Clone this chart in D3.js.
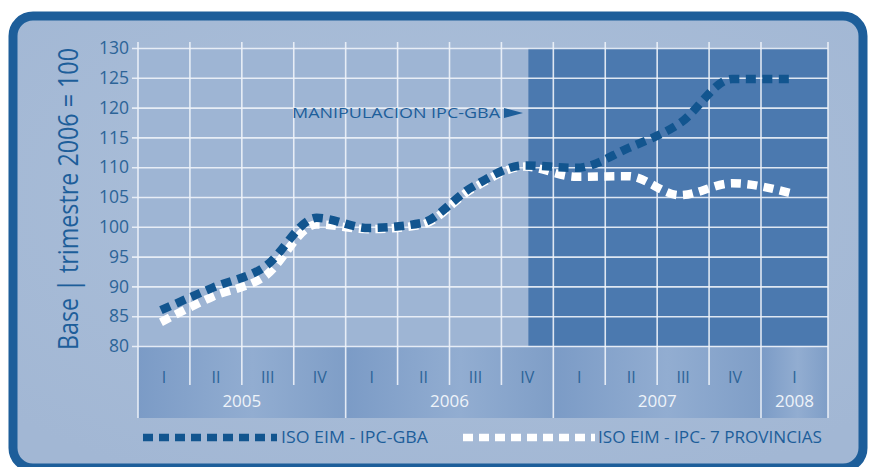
<!DOCTYPE html>
<html>
<head>
<meta charset="utf-8">
<script src="https://cdn.jsdelivr.net/npm/d3@7"></script>
<style>
  html, body { margin: 0; padding: 0; background: #ffffff; }
  svg { display: block; }
  text { font-family: "Open Sans", "DejaVu Sans", sans-serif; }
</style>
</head>
<body>
<svg id="chart" width="872" height="467"></svg>
<script>
// ---- data ----
const quarters = ["I","II","III","IV","I","II","III","IV","I","II","III","IV","I"];
const years = ["2005","2006","2007","2008"];
const yearQuarterCount = [4, 4, 4, 1];
const seriesGBA = [86.0, 89.8, 93.3, 101.5, 99.8, 100.6, 106.7, 110.3, 109.9, 113.2, 117.4, 124.8, 124.8];
const seriesProv = [84.0, 88.3, 91.7, 100.4, 99.6, 100.3, 106.4, 110.1, 108.4, 108.5, 105.3, 107.3, 105.6];
const yTicks = [80, 85, 90, 95, 100, 105, 110, 115, 120, 125, 130];
const labelGBA = "ISO EIM - IPC-GBA";
const labelProv = "ISO EIM - IPC- 7 PROVINCIAS";
const yTitle = "Base | trimestre 2006 = 100";
const annotation = "MANIPULACION IPC-GBA";
const manipulationStart = 7.5; // quarter index where shading begins

// ---- layout ----
const svg = d3.select("#chart");
const plotLeft = 138, plotTop = 48, plotBottom = 346, bandBottom = 418;
const x = d3.scaleLinear().domain([0, 12, 13]).range([138, 761, 828]);
const y = d3.scaleLinear().domain([80, 130]).range([plotBottom, plotTop]);
const plotRight = x(13);

const defs = svg.append("defs");
const pg = defs.append("radialGradient").attr("id", "panelGrad").attr("cx", "50%").attr("cy", "40%").attr("r", "70%");
pg.append("stop").attr("offset", "0%").attr("stop-color", "#acc0da");
pg.append("stop").attr("offset", "100%").attr("stop-color", "#a2b7d4");
const bg = defs.append("linearGradient").attr("id", "bandGrad").attr("x1", "0").attr("x2", "1").attr("y1", "0").attr("y2", "0");
bg.append("stop").attr("offset", "0%").attr("stop-color", "#7b9bc6");
bg.append("stop").attr("offset", "55%").attr("stop-color", "#92add1");
bg.append("stop").attr("offset", "100%").attr("stop-color", "#7f9ec7");

// frame
svg.append("rect").attr("x", 13).attr("y", 16).attr("width", 850).attr("height", 452)
  .attr("rx", 20).attr("fill", "url(#panelGrad)").attr("stroke", "#1d5e9a").attr("stroke-width", 9);

// plot background
svg.append("rect").attr("x", plotLeft).attr("y", plotTop).attr("width", plotRight - plotLeft).attr("height", plotBottom - plotTop)
  .attr("fill", "#9eb5d4");
// manipulation shading
svg.append("rect").attr("x", x(manipulationStart) + 1).attr("y", plotTop).attr("width", plotRight - x(manipulationStart) - 1)
  .attr("height", plotBottom - plotTop).attr("fill", "#4b79af");

// year bands
let acc = 0;
const yearBounds = years.map((yr, i) => { const s = acc; acc += yearQuarterCount[i]; return {yr, s, e: acc}; });
svg.append("g").selectAll("rect").data(yearBounds).join("rect")
  .attr("x", d => x(d.s)).attr("y", plotBottom).attr("width", d => x(d.e) - x(d.s)).attr("height", bandBottom - plotBottom)
  .attr("fill", "url(#bandGrad)");

// horizontal grid via axis
const yAxis = d3.axisLeft(y).tickValues(yTicks).tickSizeInner(-(plotRight - 132)).tickSizeOuter(0).tickPadding(3);
const ya = svg.append("g").attr("transform", "translate(132,0)").call(yAxis);
ya.select(".domain").remove();
ya.selectAll(".tick line").attr("stroke", "#eef3fa").attr("stroke-width", 1.6).attr("stroke-opacity", 0.9);
ya.selectAll(".tick text").attr("fill", "#2c6498").attr("font-size", 17.5).attr("font-family", "Open Sans");

// vertical grid
const bounds = d3.range(0, 14);
const yearEdgeIdx = new Set(yearBounds.map(d => d.s).concat([13]));
svg.append("g").selectAll("line").data(bounds).join("line")
  .attr("x1", d => x(d)).attr("x2", d => x(d))
  .attr("y1", 42)
  .attr("y2", d => yearEdgeIdx.has(d) ? bandBottom : 385)
  .attr("stroke", "#eef3fa").attr("stroke-width", 1.6).attr("stroke-opacity", 0.9);

// quarter labels
svg.append("g").selectAll("text").data(quarters).join("text")
  .attr("x", (d, i) => x(i + 0.5)).attr("y", 383).attr("text-anchor", "middle")
  .attr("font-size", 16).attr("fill", "#2c6498").text(d => d);
// year labels
svg.append("g").selectAll("text").data(yearBounds).join("text")
  .attr("x", d => (x(d.s) + x(d.e)) / 2).attr("y", 407).attr("text-anchor", "middle")
  .attr("font-size", 17).attr("fill", "#eef3f9").text(d => d.yr);

// lines
const line = d3.line().x((d, i) => x(i + 0.5) - 3).y(d => y(d)).curve(d3.curveMonotoneX);
svg.append("path").datum(seriesProv).attr("d", line).attr("fill", "none")
  .attr("stroke", "#ffffff").attr("stroke-width", 8.5).attr("stroke-dasharray", "10,6.5");
svg.append("path").datum(seriesGBA).attr("d", line).attr("fill", "none")
  .attr("stroke", "#12558f").attr("stroke-width", 8.5).attr("stroke-dasharray", "10,6.5");

// annotation
svg.append("text").attr("x", 292).attr("y", 118).attr("font-size", 14).attr("fill", "#1d5e9a")
  .attr("textLength", 208).attr("lengthAdjust", "spacingAndGlyphs").text(annotation);
svg.append("path").attr("d", "M504,108 L523,113 L504,118 Z").attr("fill", "#1d5e9a");

// y title
svg.append("text").attr("transform", "translate(78,199) rotate(-90)").attr("text-anchor", "middle")
  .attr("font-size", 27).attr("fill", "#1d5e9a")
  .attr("textLength", 302).attr("lengthAdjust", "spacingAndGlyphs").text(yTitle);

// legend
const legend = [
  {label: labelGBA, color: "#12558f", x1: 143, x2: 277, tx: 281, tw: 147},
  {label: labelProv, color: "#ffffff", x1: 463, x2: 595, tx: 598, tw: 224}
];
const lg = svg.append("g");
lg.selectAll("line").data(legend).join("line")
  .attr("x1", d => d.x1).attr("x2", d => d.x2).attr("y1", 437.5).attr("y2", 437.5)
  .attr("stroke", d => d.color).attr("stroke-width", 7.5).attr("stroke-dasharray", "10,6");
lg.selectAll("text").data(legend).join("text")
  .attr("x", d => d.tx).attr("y", 443).attr("font-size", 15.5).attr("fill", "#1d5e9a")
  .attr("textLength", d => d.tw).attr("lengthAdjust", "spacingAndGlyphs").text(d => d.label);
</script>
</body>
</html>
